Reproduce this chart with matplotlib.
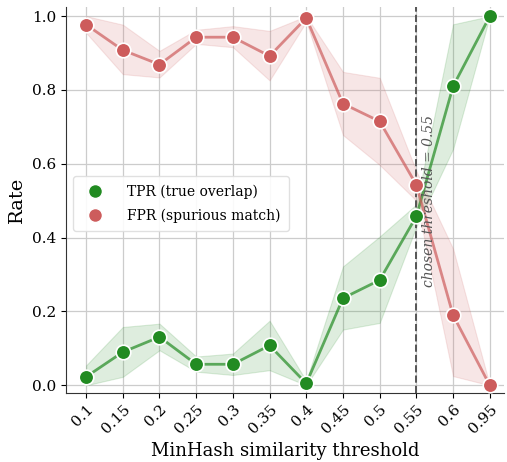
import numpy as np
import matplotlib.pyplot as plt
from matplotlib.lines import Line2D

plt.rcParams['font.family'] = ['DejaVu Serif']

thresholds = ['0.1', '0.15', '0.2', '0.25', '0.3', '0.35', '0.4', '0.45', '0.5', '0.55', '0.6', '0.95']
tpr = [0.023, 0.090, 0.131, 0.057, 0.057, 0.108, 0.005, 0.236, 0.285, 0.458, 0.810, 1.000]
tpr_lo = [0.0, 0.023, 0.095, 0.037, 0.028, 0.041, 0.0, 0.151, 0.169, 0.43, 0.64, 1.0]
tpr_hi = [0.054, 0.158, 0.167, 0.078, 0.086, 0.175, 0.012, 0.322, 0.403, 0.49, 0.978, 1.0]
fpr = [0.977, 0.908, 0.869, 0.943, 0.943, 0.892, 0.995, 0.763, 0.715, 0.543, 0.190, 0.000]
fpr_lo = [0.955, 0.843, 0.834, 0.925, 0.916, 0.826, 0.985, 0.678, 0.597, 0.50, 0.025, 0.0]
fpr_hi = [1.0, 0.977, 0.906, 0.963, 0.973, 0.960, 1.0, 0.849, 0.833, 0.58, 0.37, 0.0]
chosen = '0.55'

green = '#228b22'
red = '#cd5c5c'

x = np.arange(len(thresholds))

fig, ax = plt.subplots(figsize=(5.07, 4.62), dpi=100)
ax.grid(True, color='#cccccc', linewidth=0.9)
ax.set_axisbelow(True)

ax.fill_between(x, tpr_lo, tpr_hi, color=green, alpha=0.15, linewidth=0.8)
ax.fill_between(x, fpr_lo, fpr_hi, color=red, alpha=0.15, linewidth=0.8)
ax.plot(x, tpr, color=green, alpha=0.7, linewidth=2, zorder=3)
ax.plot(x, fpr, color=red, alpha=0.7, linewidth=2, zorder=3)
ax.scatter(x, tpr, s=110, color=green, edgecolor='white', linewidth=1.2, zorder=4)
ax.scatter(x, fpr, s=110, color=red, edgecolor='white', linewidth=1.2, zorder=4)

xc = thresholds.index(chosen)
ax.axvline(xc, color='#555555', linestyle='--', linewidth=1.4, zorder=2)
ax.text(xc + 0.15, 0.5, 'chosen threshold = ' + chosen, rotation=90, style='italic',
        color='#555555', fontsize=10, ha='left', va='center')

handles = [Line2D([], [], marker='o', linestyle='', markersize=10, color=green, markeredgecolor='white'),
           Line2D([], [], marker='o', linestyle='', markersize=10, color=red, markeredgecolor='white')]
ax.legend(handles, ['TPR (true overlap)', 'FPR (spurious match)'], loc='center left',
          bbox_to_anchor=(0.0, 0.49), fontsize=10, framealpha=0.9, edgecolor='#dddddd',
          handletextpad=1.3, labelspacing=0.7, borderpad=0.6)

ax.set_xticks(x)
ax.set_xticklabels(thresholds, rotation=45, ha='right', rotation_mode='anchor', fontsize=11)
ax.tick_params(axis='y', labelsize=11)
ax.set_xlim(-0.55, 11.4)
ax.set_ylim(-0.02, 1.025)
ax.set_xlabel('MinHash similarity threshold', fontsize=13)
ax.set_ylabel('Rate', fontsize=14)
for s in ['top', 'right']:
    ax.spines[s].set_visible(False)
for s in ['left', 'bottom']:
    ax.spines[s].set_color('#333333')

fig.subplots_adjust(left=0.13, right=0.995, top=0.985, bottom=0.15)
fig.savefig('out.png', dpi=100)
